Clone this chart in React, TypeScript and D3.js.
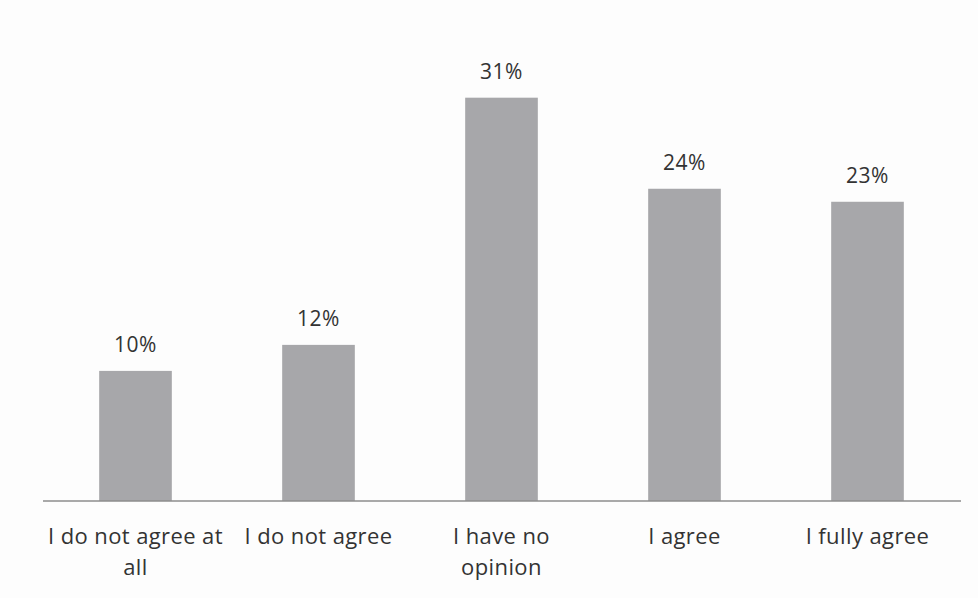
import React, { useEffect, useRef } from "react";
import * as d3 from "d3";

const categories = [
  "I do not agree at\nall",
  "I do not agree",
  "I have no\nopinion",
  "I agree",
  "I fully agree",
];
const values = [10, 12, 31, 24, 23];
const valueLabels = ["10%", "12%", "31%", "24%", "23%"];

const W = 978;
const H = 598;

export default function App() {
  const ref = useRef<SVGSVGElement | null>(null);

  useEffect(() => {
    const svg = d3.select(ref.current);
    svg.selectAll("*").remove();

    const baseline = 501;
    const x = d3
      .scaleBand<string>()
      .domain(categories)
      .range([44, 959])
      .paddingInner(0.603)
      .paddingOuter(0.3015);
    const y = d3.scaleLinear().domain([0, 35]).range([baseline, baseline - 35 * 13.01]);

    svg.append("rect").attr("width", W).attr("height", H).attr("fill", "#fdfdfd");

    const g = svg.append("g");

    g.selectAll("rect.bar")
      .data(values)
      .join("rect")
      .attr("class", "bar")
      .attr("x", (_, i) => x(categories[i])!)
      .attr("width", x.bandwidth())
      .attr("y", (d) => y(d))
      .attr("height", (d) => y(0) - y(d))
      .attr("fill", "#a7a7aa");

    g.append("line")
      .attr("x1", 43)
      .attr("x2", 961)
      .attr("y1", baseline)
      .attr("y2", baseline)
      .attr("stroke", "#8c8c8c")
      .attr("stroke-width", 1.5);

    g.selectAll("text.val")
      .data(values)
      .join("text")
      .attr("class", "val")
      .attr("x", (_, i) => x(categories[i])! + x.bandwidth() / 2)
      .attr("y", (d) => y(d) - 18.5)
      .attr("text-anchor", "middle")
      .attr("font-family", "Open Sans")
      .attr("font-size", 21)
      .attr("letter-spacing", 0.6)
      .attr("fill", "#333")
      .text((_, i) => valueLabels[i]);

    const labels = g
      .selectAll("text.cat")
      .data(categories)
      .join("text")
      .attr("class", "cat")
      .attr("text-anchor", "middle")
      .attr("font-family", "Open Sans")
      .attr("font-size", 22)
      .attr("letter-spacing", 0.4)
      .attr("fill", "#333");

    labels.each(function (d) {
      const t = d3.select(this);
      const cx = x(d)! + x.bandwidth() / 2;
      d.split("\n").forEach((line, li) => {
        t.append("tspan")
          .attr("x", cx)
          .attr("y", baseline + 43 + li * 31)
          .text(line);
      });
    });
  }, []);

  return (
    <svg
      ref={ref}
      width={W}
      height={H}
      style={{ position: "absolute", left: 0, top: 0, display: "block" }}
    />
  );
}
